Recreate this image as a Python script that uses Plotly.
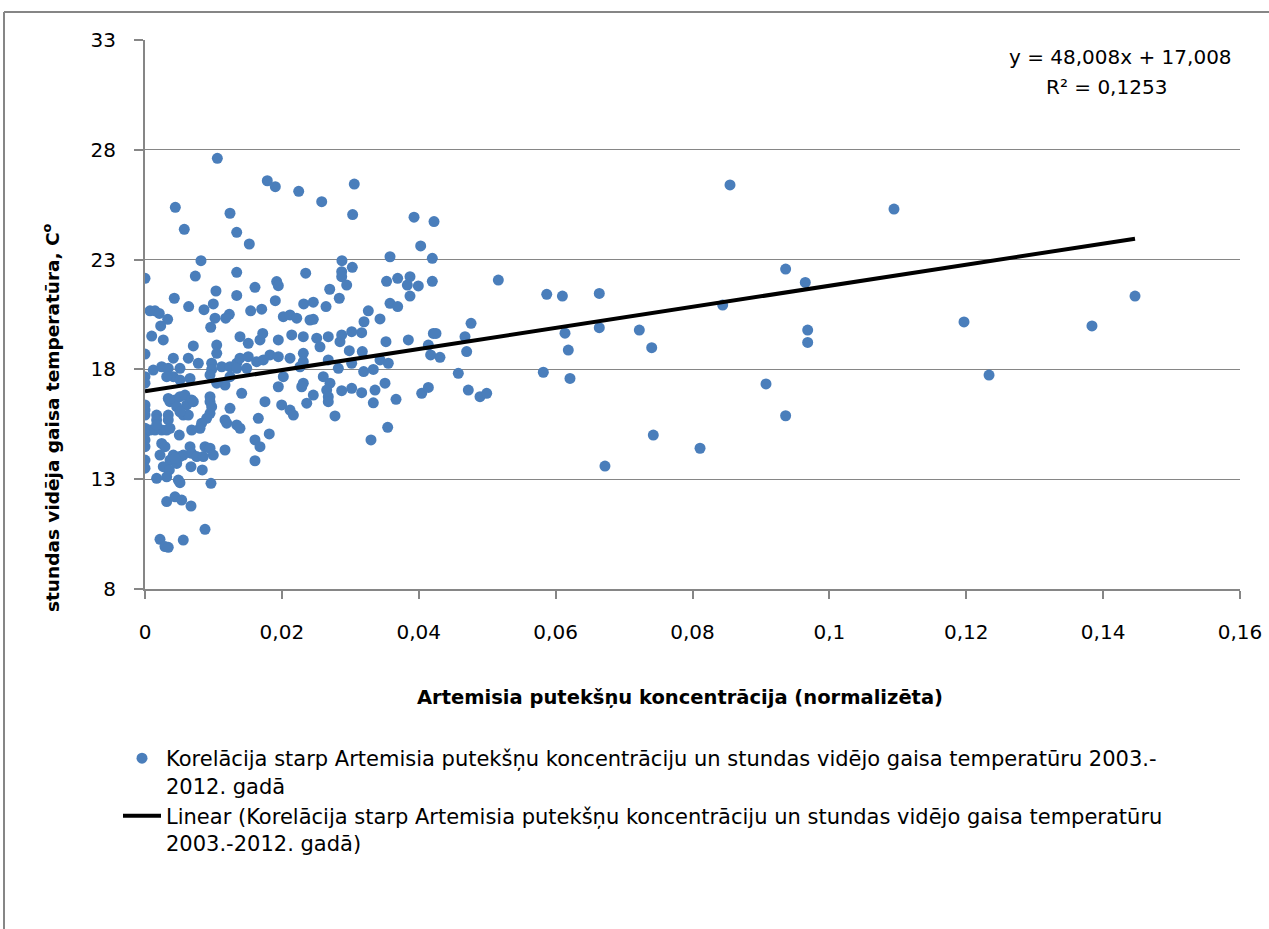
import plotly.graph_objects as go

# ---- data ----
pollen = [
    0.01057, 0.01787, 0.01904, 0.02246, 0.00443, 0.01242, 0.00574, 0.0134, 0.01524, 0.00818,
    0.0, 0.00735, 0.0134, 0.01924, 0.01948, 0.02348, 0.01607, 0.01037, 0.00428, 0.0134,
    0.01904, 0.00998, 0.02319, 0.00638, 0.00862, 0.00073, 0.00146, 0.00209, 0.00331, 0.01023,
    0.01232, 0.01179, 0.01544, 0.01705, 0.02021, 0.02119, 0.02217, 0.00229, 0.0096, 0.02411,
    0.03058, 0.02582, 0.03034, 0.03931, 0.04223, 0.04028, 0.02878, 0.0358, 0.04198, 0.02874,
    0.02874, 0.03029, 0.02947, 0.02699, 0.0353, 0.03692, 0.03872, 0.03833, 0.03994, 0.04198,
    0.02839, 0.03872, 0.02645, 0.02459, 0.0358, 0.03692, 0.03263, 0.032, 0.03434, 0.02459,
    0.04764,
    0.00098, 0.00267, 0.00706, 0.01048, 0.01048, 0.01388, 0.01509, 0.0168, 0.0172, 0.01948,
    0.02144, 0.02313, 0.0, 0.00414, 0.00633, 0.00779, 0.00974, 0.00974, 0.01121, 0.01242,
    0.0134, 0.01388, 0.01509, 0.01631, 0.01729, 0.01826, 0.01948, 0.02119, 0.02313, 0.00121,
    0.00244, 0.0034, 0.00511, 0.00414, 0.00317, 0.0, 0.0, 0.00511, 0.00658, 0.0095,
    0.01169, 0.01048, 0.01242, 0.0134, 0.01486, 0.02021, 0.01948, 0.02313, 0.0229, 0.01413,
    0.0034, 0.00365, 0.00438, 0.00511, 0.00584, 0.00682, 0.00609, 0.00706, 0.00463, 0.0095,
    0.0095, 0.00974, 0.0, 0.0, 0.0, 0.0017, 0.0017, 0.0034, 0.0034, 0.00559,
    0.00633, 0.00511, 0.01242, 0.01753, 0.01997, 0.02119, 0.02168, 0.02363, 0.0095, 0.00901,
    0.00828, 0.00804, 0.01169, 0.01194, 0.0134, 0.01388, 0.01656, 0.0, 0.0, 0.00073,
    0.00146, 0.00244, 0.00317, 0.00365, 0.0017, 0.00501, 0.00682, 0.01607, 0.0168, 0.01816,
    0.0, 0.0, 0.00244, 0.00292, 0.00219, 0.00414, 0.00511, 0.00559, 0.00658, 0.00682,
    0.00755, 0.00877, 0.0095, 0.00998, 0.00852, 0.01169, 0.00365, 0.00463, 0.00438, 0.0,
    0.0, 0.00267, 0.00355, 0.00317, 0.00487, 0.00511, 0.0017, 0.00672, 0.00837, 0.01607,
    0.00964, 0.00317, 0.00438, 0.00536, 0.00672, 0.00877, 0.00219, 0.00292, 0.0034, 0.00559,
    0.02509, 0.02678, 0.02849, 0.02874, 0.0302, 0.03166, 0.03521, 0.03848, 0.04213, 0.04252,
    0.04676, 0.02557, 0.02313, 0.02265, 0.02678, 0.02825, 0.02985, 0.0302, 0.03175, 0.03434,
    0.03555, 0.0414, 0.04174, 0.0431, 0.047, 0.03195, 0.03336, 0.03507, 0.03361, 0.03336,
    0.03166, 0.0302, 0.02874, 0.04578, 0.04724, 0.04895, 0.04043, 0.0414, 0.03668, 0.02459,
    0.02605, 0.02703, 0.02655, 0.02678, 0.02678, 0.02776, 0.03546, 0.03302, 0.04993,
    0.05163, 0.0587, 0.06099, 0.06638, 0.06137, 0.06185, 0.06638, 0.0582, 0.0621, 0.08548,
    0.09361, 0.09648, 0.08441, 0.07223, 0.07404, 0.09683, 0.09683, 0.09074, 0.09361, 0.07427,
    0.0811, 0.06721, 0.10944, 0.11967, 0.12333, 0.13837, 0.14466,
]
temperature = [
    27.61, 26.59, 26.32, 26.11, 25.38, 25.11, 24.38, 24.24, 23.71, 22.95,
    22.15, 22.25, 22.42, 22.0, 21.81, 22.38, 21.74, 21.57, 21.24, 21.37,
    21.13, 20.98, 20.98, 20.86, 20.72, 20.67, 20.67, 20.55, 20.28, 20.33,
    20.51, 20.33, 20.67, 20.74, 20.4, 20.48, 20.33, 19.98, 19.92, 20.25,
    26.44, 25.64, 25.05, 24.93, 24.73, 23.62, 22.95, 23.13, 23.06, 22.45,
    22.22, 22.65, 21.84, 21.65, 22.01, 22.15, 22.22, 21.84, 21.8, 22.01,
    21.24, 21.34, 20.86, 21.06, 21.01, 20.86, 20.67, 20.17, 20.3, 20.28,
    20.1,
    19.52, 19.34, 19.07, 19.11, 18.73, 19.49, 19.19, 19.34, 19.64, 19.34,
    19.57, 19.49, 18.7, 18.51, 18.51, 18.28, 18.28, 18.0, 18.12, 18.12,
    18.28, 18.51, 18.58, 18.35, 18.43, 18.66, 18.58, 18.51, 18.73, 17.97,
    18.12, 18.05, 18.05, 17.67, 17.67, 17.67, 17.37, 17.52, 17.59, 17.75,
    17.29, 17.37, 17.67, 18.05, 18.05, 17.67, 17.21, 17.37, 17.21, 16.91,
    16.68, 16.53, 16.61, 16.76, 16.83, 16.61, 16.38, 16.53, 16.3, 16.76,
    16.53, 16.3, 16.38, 16.15, 15.92, 15.92, 15.7, 15.92, 15.7, 15.92,
    15.92, 16.07, 16.23, 16.53, 16.38, 16.15, 15.92, 16.46, 16.0, 15.77,
    15.55, 15.32, 15.7, 15.55, 15.47, 15.32, 15.77, 15.32, 15.09, 15.24,
    15.24, 15.24, 15.24, 15.32, 15.47, 15.01, 15.24, 14.79, 14.48, 15.06,
    14.79, 14.48, 14.63, 14.48, 14.1, 14.1, 14.03, 14.1, 14.48, 14.18,
    14.03, 14.48, 14.41, 14.1, 14.03, 14.33, 13.87, 13.72, 13.95, 13.87,
    13.5, 13.57, 13.42, 13.11, 12.96, 12.84, 13.04, 13.57, 13.42, 13.84,
    12.81, 11.98, 12.2, 12.05, 11.78, 10.72, 10.26, 9.93, 9.9, 10.23,
    19.42, 19.49, 19.26, 19.57, 19.72, 19.67, 19.26, 19.34, 19.64, 19.64,
    19.49, 19.03, 18.35, 18.12, 18.43, 18.05, 18.85, 18.28, 18.81, 18.43,
    18.28, 19.11, 18.66, 18.55, 18.81, 17.9, 18.0, 17.37, 17.06, 16.48,
    16.94, 17.14, 17.03, 17.82, 17.06, 16.76, 16.91, 17.18, 16.64, 16.83,
    17.67, 17.37, 17.06, 16.76, 16.53, 15.88, 15.36, 14.79, 16.91,
    22.07, 21.42, 21.34, 21.46, 19.65, 18.88, 19.9, 17.87, 17.59, 26.4,
    22.57, 21.96, 20.93, 19.79, 18.99, 19.79, 19.23, 17.34, 15.89, 15.01,
    14.41, 13.6, 25.3, 20.16, 17.74, 19.98, 21.34,
]

# linear trend (coefficients as printed on the chart)
slope = 48.008
intercept = 17.008
equation_text = "y = 48,008x + 17,008"
r2_text = "R² = 0,1253"

x_tick_values = [0, 0.02, 0.04, 0.06, 0.08, 0.1, 0.12, 0.14, 0.16]
x_tick_labels = ["0", "0,02", "0,04", "0,06", "0,08", "0,1", "0,12", "0,14", "0,16"]
y_tick_values = [8, 13, 18, 23, 28, 33]

series_name = ("Korelācija starp Artemisia putekšņu koncentrāciju un stundas vidējo gaisa temperatūru 2003.-"
               "<br>2012. gadā")
trend_name = ("Linear (Korelācija starp Artemisia putekšņu koncentrāciju un stundas vidējo gaisa temperatūru"
              "<br>2003.-2012. gadā)")
x_title = "Artemisia putekšņu koncentrācija (normalizēta)"
y_title = "stundas vidēja gaisa temperatūra, C<sup>o</sup>"

# ---- figure ----
FONT = "DejaVu Sans"
GRID = "#868686"

trend_x = [min(pollen), max(pollen)]
trend_y = [slope * v + intercept for v in trend_x]

fig = go.Figure()
fig.add_trace(go.Scatter(
    x=pollen, y=temperature, mode="markers", name=series_name,
    marker=dict(color="#4A7EBB", size=11, line=dict(width=0)),
))
fig.add_trace(go.Scatter(
    x=trend_x, y=trend_y, mode="lines", name=trend_name,
    line=dict(color="black", width=4),
))

W, H = 1269, 929
L, R, T, B = 145, 29, 40, 340
pw, ph = W - L - R, H - T - B


def px_x(p):
    return (p - L) / pw


def px_y(p):
    return 1 - (p - T) / ph


fig.update_layout(
    width=W, height=H,
    margin=dict(l=L, r=R, t=T, b=B, autoexpand=False),
    paper_bgcolor="white", plot_bgcolor="white",
    font=dict(family=FONT, color="black", size=18),
    xaxis=dict(
        range=[0, 0.16], tickvals=x_tick_values, ticktext=x_tick_labels,
        showgrid=False, zeroline=False, showline=True, linecolor=GRID, linewidth=2,
        ticks="outside", ticklen=8, tickcolor=GRID, tickwidth=2,
        tickfont=dict(family=FONT, size=20, color="black"), ticklabelstandoff=16,
    ),
    yaxis=dict(
        range=[8, 33], tickvals=y_tick_values,
        showgrid=True, gridcolor=GRID, gridwidth=1, zeroline=False,
        showline=True, linecolor=GRID, linewidth=2,
        ticks="outside", ticklen=9, tickcolor=GRID, tickwidth=2,
        tickfont=dict(family=FONT, size=20, color="black"), ticklabelstandoff=14,
    ),
    showlegend=True,
    legend=dict(
        x=px_x(118), xanchor="left", y=px_y(738), yanchor="top",
        font=dict(family=FONT, size=21, color="black"),
        bgcolor="rgba(0,0,0,0)", itemwidth=38, valign="top",
    ),
    annotations=[
        dict(text=equation_text, x=px_x(1120), y=px_y(57), xref="paper", yref="paper",
             showarrow=False, font=dict(family=FONT, size=20, color="black"),
             xanchor="center", yanchor="middle"),
        dict(text=r2_text, x=px_x(1106), y=px_y(87), xref="paper", yref="paper",
             showarrow=False, font=dict(family=FONT, size=20, color="black"),
             xanchor="center", yanchor="middle"),
        dict(text="<b>" + x_title + "</b>", x=px_x(680), y=px_y(697), xref="paper", yref="paper",
             showarrow=False, font=dict(family=FONT, size=19.5, color="black"),
             xanchor="center", yanchor="middle"),
        dict(text="<b>" + y_title + "</b>", x=px_x(51), y=px_y(418), xref="paper", yref="paper",
             showarrow=False, textangle=-90, font=dict(family=FONT, size=18.5, color="black"),
             xanchor="center", yanchor="middle"),
    ],
    shapes=[
        dict(type="line", xref="paper", yref="paper", x0=px_x(4), x1=px_x(4),
             y0=px_y(12), y1=px_y(940), line=dict(color=GRID, width=2)),
        dict(type="line", xref="paper", yref="paper", x0=px_x(4), x1=px_x(1280),
             y0=px_y(12), y1=px_y(12), line=dict(color=GRID, width=2)),
    ],
)

fig.write_html(
    "out.html",
    config={"displayModeBar": False},
    post_script="document.body.style.margin='0';document.body.style.overflow='hidden';",
)
